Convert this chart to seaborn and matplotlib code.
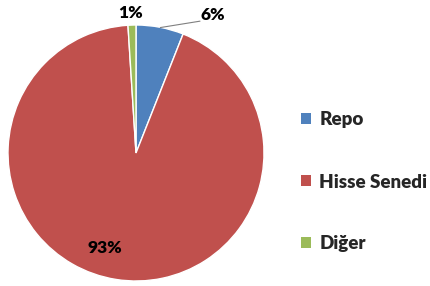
import matplotlib
matplotlib.use("Agg")
import matplotlib.pyplot as plt
import matplotlib.patches as mpatches
import seaborn as sns

categories = ["Repo", "Hisse Senedi", "Diğer"]
values = [6, 93, 1]
pct_labels = ["6%", "93%", "1%"]
colors = ["#4F81BD", "#C0504D", "#9BBB59"]

sns.set_theme(style="white")
plt.rcParams["font.family"] = ["Lato", "DejaVu Sans"]

W, H = 430, 286
cx, cy, R = 136, 153, 128
fig = plt.figure(figsize=(W / 100, H / 100), dpi=100)
ax = fig.add_axes([0, 0, 1, 1])
ax.pie(values, colors=colors, startangle=90, counterclock=False,
       wedgeprops=dict(edgecolor="white", linewidth=1.0), radius=1)
ax.set_xlim(-cx / R, (W - cx) / R)
ax.set_ylim(-(H - cy) / R, cy / R)
ax.set_aspect("auto")
ax.axis("off")

fs = 12.5
# percent labels
ax.text(0.60, 1.08, pct_labels[0], ha="center", va="center", fontsize=fs,
        fontweight="heavy", color="black")
ax.plot([0.19, 0.5], [0.98, 1.03], color="#808080", lw=0.8)
ax.text(-0.04, 1.09, pct_labels[2], ha="center", va="center", fontsize=fs,
        fontweight="heavy", color="black")
ax.text(-0.24, -0.74, pct_labels[1], ha="center", va="center", fontsize=fs,
        fontweight="heavy", color="black")

handles = [mpatches.Patch(facecolor=c, edgecolor="none") for c in colors]
leg = fig.legend(handles, categories, loc="center left",
                 bbox_to_anchor=(301 / W, 1 - 182 / H), frameon=False,
                 prop=dict(family=["Lato", "DejaVu Sans"], weight="heavy", size=13.5),
                 handlelength=0.52, handleheight=0.52, handletextpad=0.45,
                 labelspacing=2.4, borderpad=0, borderaxespad=0)

fig.savefig("out.png", dpi=100)
